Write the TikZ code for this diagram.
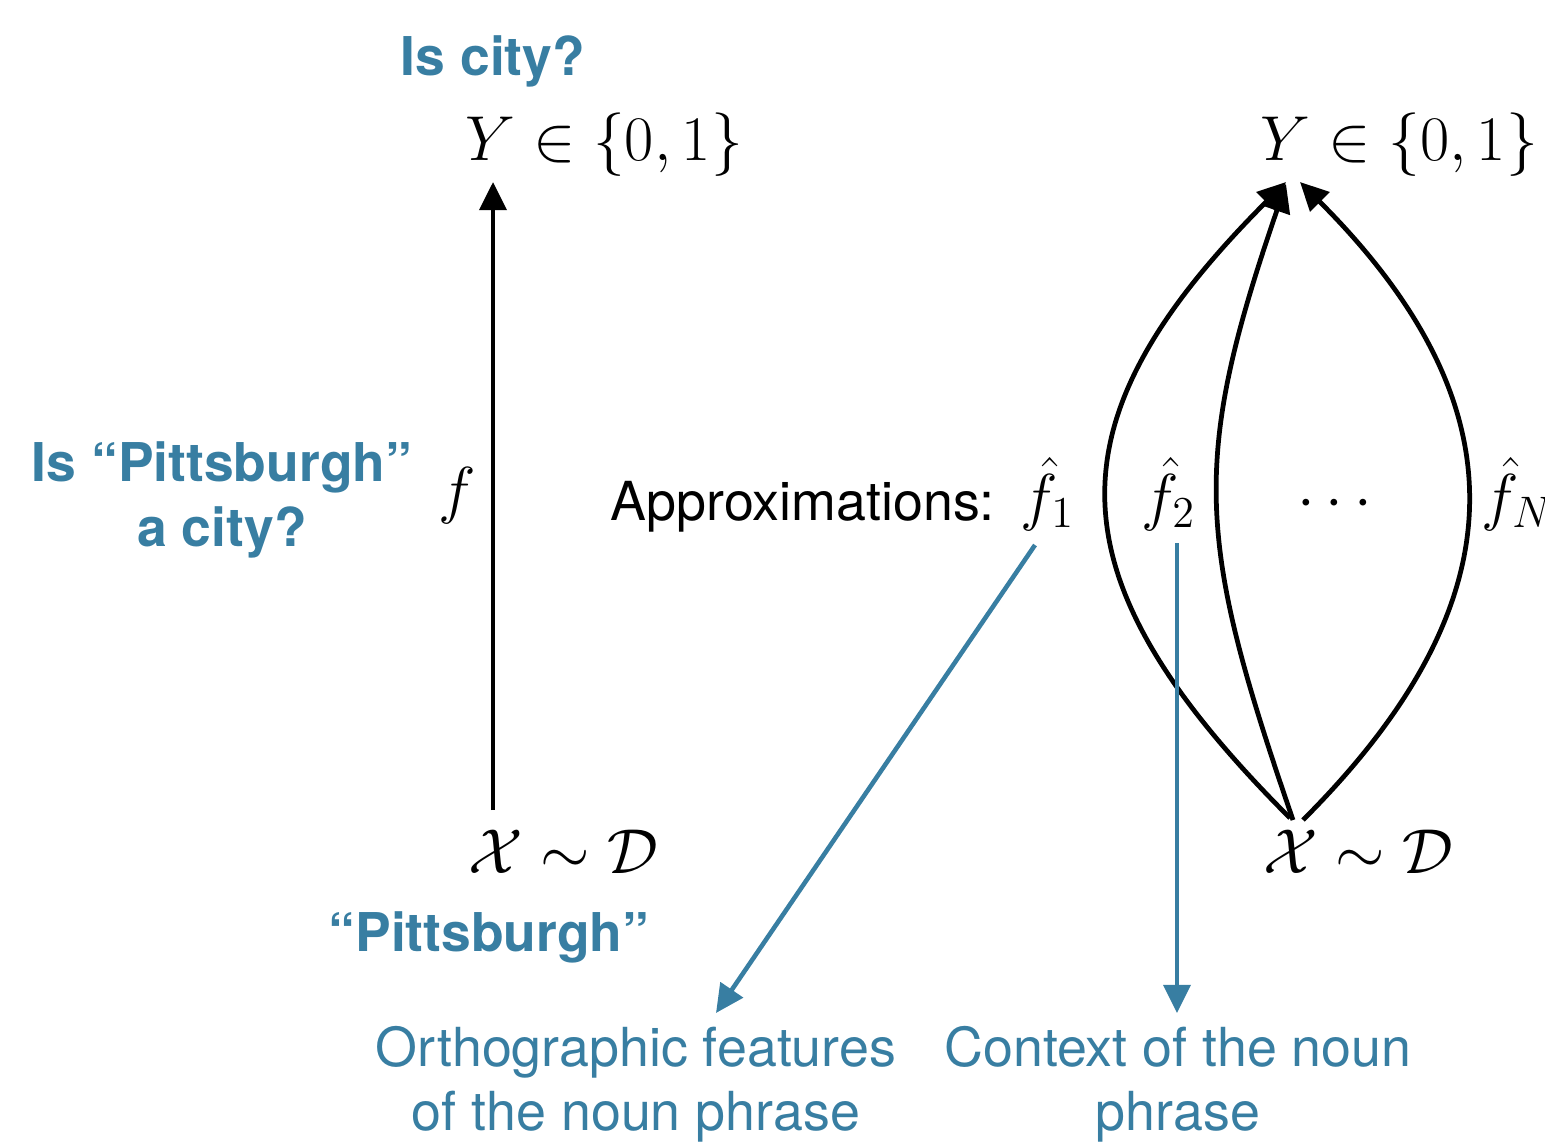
\documentclass[tikz,border=0pt]{standalone}
\usepackage{amsmath,amssymb}
\usepackage{fontspec}
\newfontfamily\helv{TeX Gyre Heros}
\usetikzlibrary{arrows.meta,calc,positioning}

\begin{document}
\begin{tikzpicture}[x=0.01cm, y=-0.01cm, line join=round,
		>={Triangle[length=8pt,width=7.6pt]},
		mathlbl/.style={inner sep=0pt, scale=1.045, font=\fontsize{17.28}{21}\selectfont},
		boldq/.style={inner sep=0pt, text=kblue, align=center, font=\helv\bfseries\fontsize{15.2}{18.6}\selectfont},
		note/.style={inner sep=0pt, text=kblue, align=center, font=\helv\fontsize{15.3}{18.2}\selectfont},
		mapping/.style={->, black, line width=1.35pt},
		pointer/.style={->, kblue, line width=1.3pt}]
		
		% Custom blue colour
		\definecolor{kblue}{RGB}{56, 126, 162}
		
		% Frame of the picture
		\useasboundingbox (0,0) rectangle (1545,1142);
		
		% 1. Left: the true function f
		\node[boldq, anchor=base] (CityQ) at (493, 75) {Is city?};
		\node[mathlbl, anchor=base west] (Yl) at (465, 160) {$Y \in \{0,1\}$};
		\node[mathlbl, anchor=base west] (Xl) at (468, 873) {$\mathcal{X} \sim \mathcal{D}$};
		\node[boldq, anchor=base] (Pitts) at (489, 951) {“Pittsburgh”};
		\node[boldq] (PittsQ) at (222, 500) {Is “Pittsburgh”\\ a city?};
		\node[mathlbl, anchor=base west] (fl) at (438, 511) {$f$};
		
		\coordinate (fTail) at (493, 810);
		\coordinate (fHead) at (493, 182);
		\draw[mapping] (fTail) -- (fHead);
		
		% 2. Right: the approximations
		\node[mathlbl, anchor=base west] (Yr) at (1260, 160) {$Y \in \{0,1\}$};
		\node[mathlbl, anchor=base west] (Xr) at (1263, 873) {$\mathcal{X} \sim \mathcal{D}$};
		\node[note, text=black, anchor=base west] (Approx) at (610, 520) {Approximations:};
		\node[mathlbl, anchor=base west] (f1) at (1020, 518) {$\hat{f}_1$};
		\node[mathlbl, anchor=base west] (f2) at (1141, 518) {$\hat{f}_2$};
		\node[mathlbl, anchor=base] (dots) at (1340, 518) {$\cdots$};
		\node[mathlbl, anchor=base west] (fN) at (1481, 518) {$\hat{f}_N$};
		
		% Tails and heads of the three curved maps
		\coordinate (sA) at (1290, 818);
		\coordinate (sB) at (1293, 820);
		\coordinate (sC) at (1303, 820);
		\coordinate (tA) at (1286, 182);
		\coordinate (tB) at (1286, 184);
		\coordinate (tC) at (1300, 182);
		
		\draw[mapping] (sA) .. controls +(-241,-241) and +(-241,241) .. (tA);
		\draw[mapping] (sB) .. controls +(-96,-279) and +(-96,279) .. (tB);
		\draw[mapping] (sC) .. controls +(221,-221) and +(221,221) .. (tC);
		
		% 3. What each approximation looks at
		\node[note] (Ortho) at (636, 1084) {Orthographic features\\ of the noun phrase};
		\node[note] (Context) at (1178, 1084) {Context of the noun\\ phrase};
		
		\coordinate (oTail) at (1035, 545);
		\coordinate (oHead) at (716, 1013);
		\coordinate (cTail) at (1177, 543);
		\coordinate (cHead) at (1177, 1013);
		\draw[pointer] (oTail) -- (oHead);
		\draw[pointer] (cTail) -- (cHead);
		
	\end{tikzpicture}
\end{document}
